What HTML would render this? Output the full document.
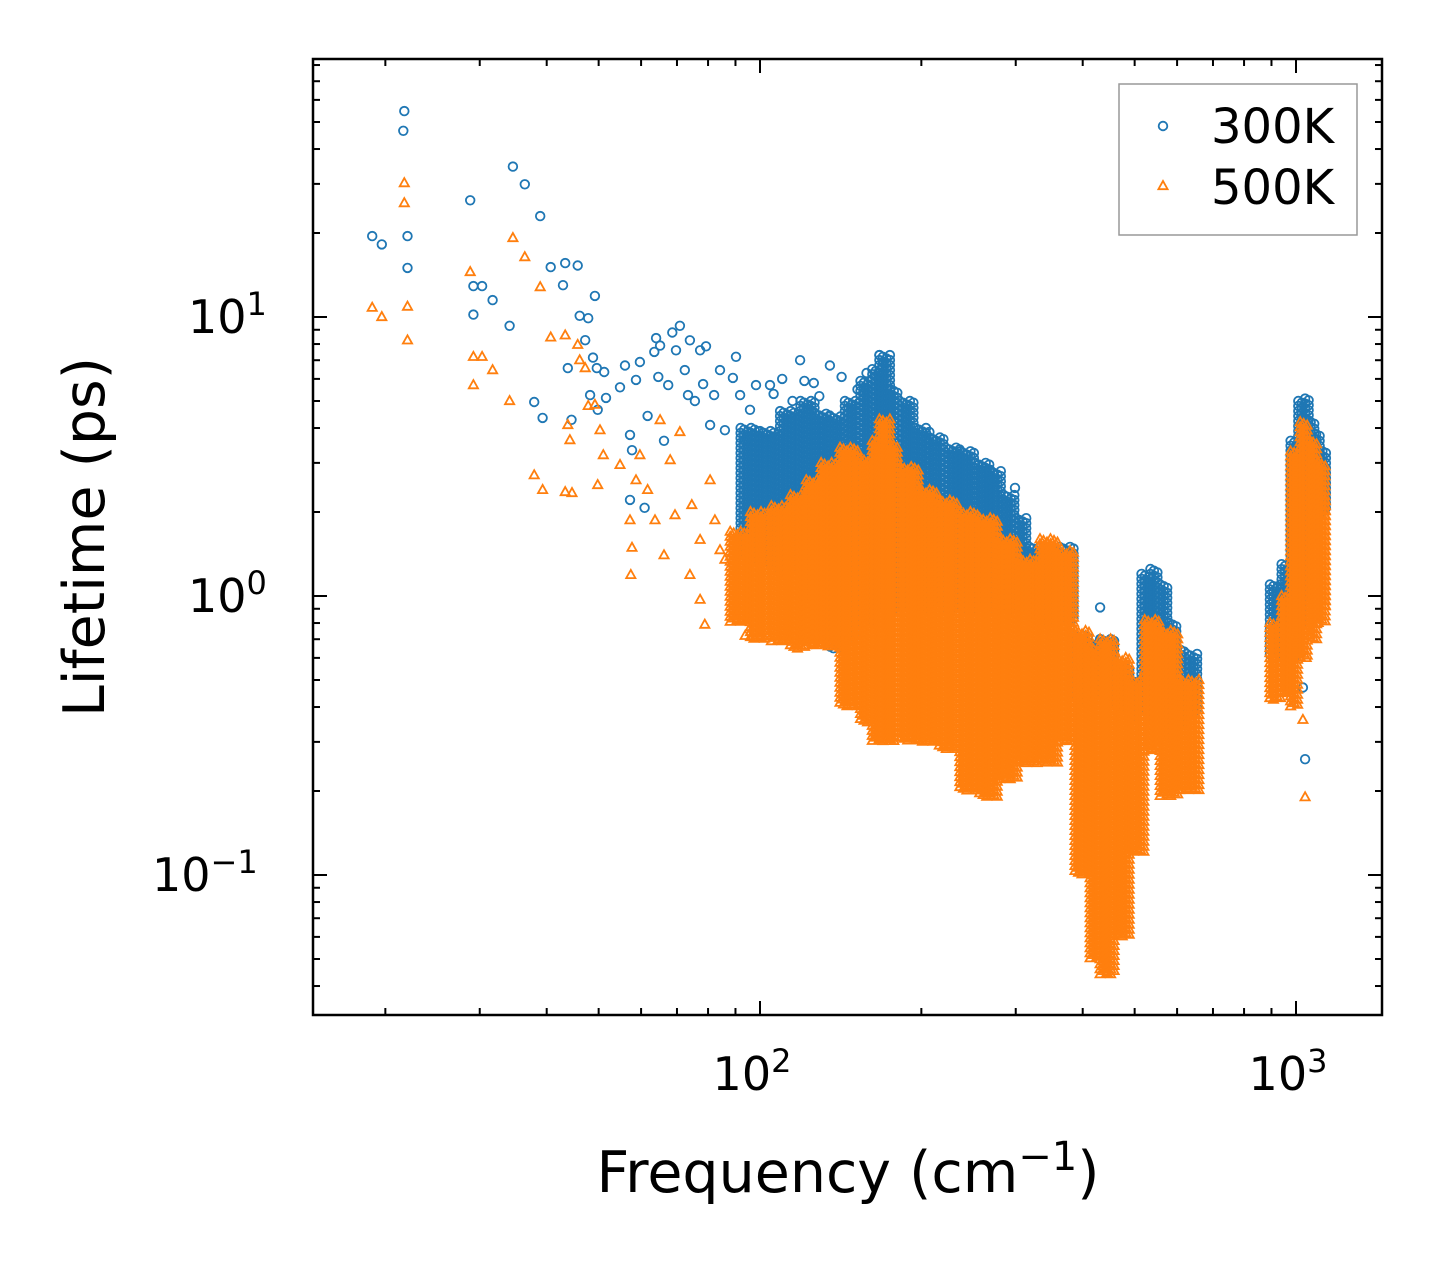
<!DOCTYPE html>
<html><head><meta charset="utf-8">
<style>
html,body{margin:0;padding:0;background:#fff;}
svg{display:block;font-family:"DejaVu Sans","Liberation Sans",sans-serif;}
</style></head>
<body>
<svg id="chart" width="1442" height="1265" viewBox="0 0 1442 1265">
<rect x="0" y="0" width="1442" height="1265" fill="#fff"/>
<g id="marks"></g>
<g id="axes"></g>
</svg>
<script>
// ---- sparse points (frequency cm^-1, lifetime ps) ----
const bFreq=[18.9,19.7,21.7,21.6,22.0,22.0,28.8,29.2,29.2,30.3,31.7,34.1,34.6,36.4,37.9,38.9,39.3,40.7,42.9,43.3,45.7,43.8,44.5,46.1,47.8,47.2,49.2,48.8,49.6,49.8,48.2,51.2,51.6,54.8,56.0,57.2,57.7,57.2,58.7,59.7,60.9,61.7,63.5,64.0,64.6,65.1,66.2,67.4,68.6,69.7,70.9,72.4,74.0,73.4,75.6,77.3,78.3,79.3,80.7,82.1,84.2,86.0,89.0,90.2,91.8,93.8,95.8,98.3,104.4,106,110,115,118.8,121,126,129,135,142,152,158,167,170,182,207,212,225,269,272,299,431,431,1030,1040];
const bLife=[19.5,18.2,54.7,46.5,19.5,15.0,26.2,12.9,10.2,12.9,11.5,9.3,34.6,29.9,4.96,23.0,4.35,15.1,13.0,15.6,15.3,6.56,4.28,10.1,9.9,8.26,11.9,7.15,6.56,4.65,5.25,6.35,5.13,5.6,6.7,3.78,3.33,2.21,5.95,6.9,2.07,4.42,7.5,8.4,6.1,7.9,3.6,5.7,8.8,7.6,9.3,6.45,8.25,5.25,5.0,7.6,5.75,7.85,4.1,5.25,6.45,3.93,6.05,7.2,5.25,3.6,4.65,5.7,5.7,5.3,6.0,5.0,7.0,5.9,5.8,5.2,6.7,6.1,5.5,6.3,7.3,6.9,5.0,3.87,3.6,3.1,2.83,2.6,2.44,0.91,0.7,0.47,0.26];
const oFreq=[18.9,19.7,21.7,21.7,22.0,22.0,28.8,29.2,30.3,29.2,31.7,34.1,34.6,36.4,37.9,38.9,39.3,40.7,43.3,43.8,44.2,44.6,43.3,45.7,46.1,47.2,47.8,49.2,50.3,51.0,49.8,54.8,57.2,57.7,57.4,58.7,59.7,61.7,65.1,66.2,68.0,70.9,74.0,77.3,78.9,80.7,84.2,91.8,93.8,74.6,69.4,63.7,77.3,82.4,86.0,388,1030,1040,1045];
const oLife=[10.8,10.0,30.2,25.6,10.9,8.25,14.5,7.2,7.2,5.7,6.45,5.0,19.2,16.4,2.71,12.8,2.4,8.45,8.6,4.1,3.62,2.34,2.36,7.95,7.0,6.56,4.8,4.85,3.93,3.2,2.5,2.95,1.87,1.49,1.19,2.6,3.2,2.4,4.27,1.4,3.07,3.87,1.19,0.97,0.79,2.6,1.46,0.89,0.72,2.12,1.95,1.87,1.59,1.87,1.35,0.55,0.36,0.19,0.6];
// ---- dense band envelopes: bin start frequency, upper & lower lifetime (null = empty) ----
const bBandFreq=[92,100,109,119,127,135,144,154,162,167,175,182,195,207,222,236,252,269,285,300,318,340,362,385,410,431,460,490,515,535,558,580,600,625,660,894,940,977,1010,1040,1065,1090,1120,1150];
const bBandHi=[4.0,3.9,4.6,5.0,4.5,4.4,5.0,5.9,6.5,7.3,5.5,5.0,4.0,3.7,3.4,3.3,3.0,2.8,2.3,1.9,1.5,1.45,1.5,0.72,0.68,0.7,0.55,0.5,1.2,1.25,1.1,0.8,0.65,0.62,null,1.1,1.3,3.6,5.0,5.1,4.2,3.8,3.3,null];
const bBandLo=[1.3,1.3,1.2,1.0,0.8,0.65,0.7,0.8,0.9,0.9,0.9,0.9,0.9,0.9,0.9,0.9,0.9,0.9,0.9,0.9,0.8,0.8,0.8,0.42,0.42,0.42,0.4,0.36,0.36,0.5,0.4,0.3,0.35,0.38,null,0.6,0.6,0.6,0.8,1.0,1.5,1.9,2.0,null];
const oBandFreq=[88,96,105,114,122,130,141,154,162,167,175,183,198,216,236,257,280,305,333,362,387,413,431,460,490,522,558,606,630,665,894,940,977,1018,1060,1100,1134,1150];
const oBandHi=[1.7,2.0,2.1,2.3,2.6,3.0,3.4,3.1,3.6,4.3,3.5,2.9,2.4,2.2,2.0,1.9,1.6,1.35,1.6,1.45,0.75,0.65,0.7,0.6,0.5,0.82,0.75,0.5,0.5,null,0.8,1.0,3.3,4.2,3.6,3.0,2.2,null];
const oBandLo=[0.8,0.7,0.68,0.64,0.66,0.66,0.4,0.35,0.3,0.3,0.3,0.3,0.3,0.28,0.2,0.19,0.22,0.25,0.25,0.3,0.1,0.05,0.044,0.06,0.12,0.28,0.19,0.2,0.2,null,0.42,0.45,0.4,0.6,0.7,0.8,0.9,null];
const xTickVals=[100,1000], xTickLabels=['2','3'];
const yTickVals=[0.1,1,10], yTickLabels=['\u22121','0','1'];

const L=313,R=1382,T=59,B=1015;
const X=f=>760+536*(Math.log10(f)-2);
const Y=v=>596-279*Math.log10(v);
const NS='http://www.w3.org/2000/svg';
const marks=document.getElementById('marks'), axes=document.getElementById('axes');
function mk(tag,attrs,parent){const e=document.createElementNS(NS,tag);for(const k in attrs)e.setAttribute(k,attrs[k]);parent.appendChild(e);return e;}

const clip=mk('clipPath',{id:'pc'},marks);mk('rect',{x:L,y:T,width:R-L,height:B-T},clip);
const gB=mk('g',{'clip-path':'url(#pc)',fill:'none',stroke:'#1f77b4','stroke-width':'1.8'},marks);


const gO=mk('g',{'clip-path':'url(#pc)',fill:'none',stroke:'#ff7f0e','stroke-width':'1.8'},marks);



function circ(x,y,g){const c=mk('circle',{cx:x.toFixed(1),cy:y.toFixed(1),r:4.3},g);

}
function tri(x,y,g){const p=mk('polygon',{points:`${x.toFixed(1)},${(y-5).toFixed(1)} ${(x-4.6).toFixed(1)},${(y+3.2).toFixed(1)} ${(x+4.6).toFixed(1)},${(y+3.2).toFixed(1)}`},g);

}

function band(fr,hi,lo,draw,g){
  for(let i=0;i<fr.length-1;i++){
    if(hi[i]==null)continue;
    const x0=X(fr[i]),x1=X(fr[i+1]);const y0=Y(hi[i]),y1=Y(lo[i]);
    let col=0;
    for(let x=x0;x<x1;x+=3.5,col++){
      for(let y=y0+(col%3)*1.7;y<=y1;y+=5)draw(x,y,g);
    }
  }
}
band(bBandFreq,bBandHi,bBandLo,circ,gB);
for(let i=0;i<bFreq.length;i++)circ(X(bFreq[i]),Y(bLife[i]),gB);
band(oBandFreq,oBandHi,oBandLo,tri,gO);
for(let i=0;i<oFreq.length;i++)tri(X(oFreq[i]),Y(oLife[i]),gO);

const fr=mk('rect',{x:L,y:T,width:R-L,height:B-T,fill:'none',stroke:'#000','stroke-width':'2.5'},axes);


function tickX(f,len){const x=X(f);if(x<L||x>R)return;mk('line',{x1:x,x2:x,y1:B,y2:B-len,stroke:'#000','stroke-width':2},axes);mk('line',{x1:x,x2:x,y1:T,y2:T+len,stroke:'#000','stroke-width':2},axes);}
function tickY(v,len){const y=Y(v);if(y<T||y>B)return;mk('line',{x1:L,x2:L+len,y1:y,y2:y,stroke:'#000','stroke-width':2},axes);mk('line',{x1:R,x2:R-len,y1:y,y2:y,stroke:'#000','stroke-width':2},axes);}
for(let d=10;d<=1000;d*=10)for(let k=2;k<=9;k++)tickX(k*d,7);
for(let d=0.01;d<=10;d*=10)for(let k=2;k<=9;k++)tickY(k*d,7);
xTickVals.forEach(v=>tickX(v,14));yTickVals.forEach(v=>tickY(v,14));

xTickVals.forEach((v,i)=>{
  const t=mk('text',{x:X(v)-8,y:1090,'font-size':46,'text-anchor':'middle'},axes);
  
  
  t.textContent='10';
  const s=mk('tspan',{dy:-18,'font-size':32},t);s.textContent=xTickLabels[i];
});
const yLabX=[152,188,188];
yTickVals.forEach((v,i)=>{
  const t=mk('text',{x:yLabX[i],y:Y(v)+16,'font-size':46,'text-anchor':'start'},axes);
  
  
  t.textContent='10';
  const s=mk('tspan',{dy:-18,'font-size':32},t);s.textContent=yTickLabels[i];
});
</script>
<script>
(function(){
const svg=document.getElementById('chart');const NS='http://www.w3.org/2000/svg';
function mk(tag,attrs,parent){const e=document.createElementNS(NS,tag);for(const k in attrs)e.setAttribute(k,attrs[k]);parent.appendChild(e);return e;}
const xt=mk('text',{x:848,y:1192,'font-size':57,'text-anchor':'middle'},svg);


xt.textContent='Frequency (cm';
const s1=mk('tspan',{dy:-22,'font-size':40},xt);s1.textContent='\u22121';
const s2=mk('tspan',{dy:22},xt);s2.textContent=')';
const yt=mk('text',{x:0,y:0,'font-size':57,'text-anchor':'middle',transform:'translate(104,537) rotate(-90)'},svg);


yt.textContent='Lifetime (ps)';
const lg=mk('g',{},svg);


mk('rect',{x:1119,y:84,width:238,height:151,fill:'#fff',stroke:'#999','stroke-width':1.5},lg);
const e1=mk('g',{},lg);


mk('circle',{cx:1163,cy:126,r:4.3,fill:'none',stroke:'#1f77b4','stroke-width':1.8},e1);
const t1=mk('text',{x:1211,y:143,'font-size':48},e1);t1.textContent='300K';
const e2=mk('g',{},lg);


mk('polygon',{points:'1163,181 1158.4,189.2 1167.6,189.2',fill:'none',stroke:'#ff7f0e','stroke-width':1.8},e2);
const t2=mk('text',{x:1211,y:204,'font-size':48},e2);t2.textContent='500K';
})();
</script>
</body></html>
